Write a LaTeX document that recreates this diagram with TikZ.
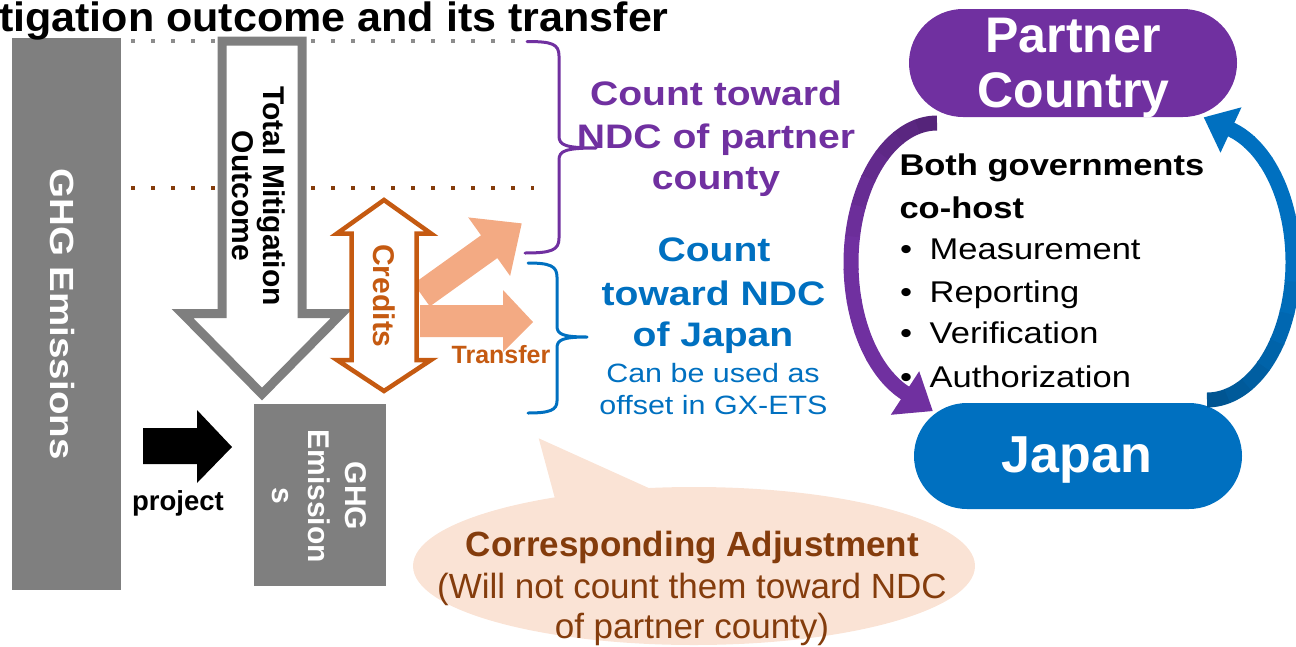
\documentclass[tikz,border=0pt]{standalone}
\usepackage{fontspec}
\setmainfont{Liberation Sans}
\newfontfamily\wf[FakeStretch=1.15]{Liberation Sans}
\newfontfamily\tf[FakeStretch=1.05]{Liberation Sans}
\usetikzlibrary{shapes.geometric}
\newcommand{\setfs}[1]{\fontsize{#1}{#1}\selectfont}
\definecolor{ghggray}{HTML}{7F7F7F}
\definecolor{dotgray}{HTML}{8C8C8C}
\definecolor{ptpurple}{HTML}{7030A0}
\definecolor{jpblue}{HTML}{0070C0}
\definecolor{credorange}{HTML}{C55A11}
\definecolor{salmon}{HTML}{F3AA83}
\definecolor{brownd}{HTML}{843C0C}
\definecolor{peach}{HTML}{FAE3D5}
\begin{document}
\begin{tikzpicture}[x=1pt,y=-1pt,
  txt/.style={inner sep=0pt, outer sep=0pt},
  dots/.style={line width=4pt, dash pattern=on 4pt off 16pt},
  bar/.style={fill=ghggray, inner sep=0pt, outer sep=0pt},
  vtxt/.style={txt, rotate=-90, anchor=base},
  htxt/.style={txt, anchor=base},
  pill/.style={inner sep=0pt, outer sep=0pt, minimum width=328pt},
  band/.style={line width=15pt},
  brace/.style={line width=3pt, line join=round, line cap=round}]
\useasboundingbox (0,0) rectangle (1296,646);
\clip (0,0) rectangle (1296,646);

% dotted level lines
\coordinate (g1) at (131,41); \coordinate (g2) at (530,41);
\draw[dots, dotgray] (g1) -- (g2);
\coordinate (b1) at (131,188); \coordinate (b2) at (534,188);
\draw[dots, brownd] (b1) -- (b2);

% big GHG bar
\node[bar, minimum width=109pt, minimum height=552pt] (ghgbar) at (66.5,314) {};
\node[vtxt, text=white, font={\wf\bfseries\setfs{33.5}}] (ghgtxt) at (50,314) {GHG Emissions};

% small GHG box
\node[bar, minimum width=132pt, minimum height=182pt] (ghgbox) at (320,495) {};
\node[vtxt, text=white, font={\bfseries\setfs{30}}] (sb1) at (345,496) {GHG};
\node[vtxt, text=white, font={\bfseries\setfs{30}}] (sb2) at (308,496) {Emission};
\node[vtxt, text=white, font={\bfseries\setfs{30}}] (sb3) at (272,496) {s};

% project arrow
\fill (143,428) -- (197,428) -- (197,410) -- (232,447) -- (197,483) -- (197,464) -- (143,464) -- cycle;
\node[htxt, font={\bfseries\setfs{27.5}}] (proj) at (178,510) {project};

% total mitigation outcome arrow
\draw[ghggray, fill=white, line width=9pt] (222,41) -- (302,41) -- (302,313.5) -- (341.5,313.5) -- (262,394) -- (182.5,313.5) -- (222,313.5) -- cycle;
\node[vtxt, font={\bfseries\setfs{30}}] (tmo1) at (263,196) {Total Mitigation};
\node[vtxt, font={\bfseries\setfs{30}}] (tmo2) at (232,196) {Outcome};

% salmon transfer arrows
\fill[salmon] (420,305) -- (503,305) -- (503,290) -- (533,322) -- (503,352) -- (503,337) -- (420,337) -- cycle;
\begin{scope}[shift={(421.7,295)}, rotate=35.6]
\fill[salmon] (0,-14) -- (83,-14) -- (83,-36) -- (123,0) -- (83,36) -- (83,14) -- (0,14) -- cycle;
\end{scope}

% credits double arrow
\draw[credorange, fill=white, line width=4.5pt] (384,200) -- (431,233.5) -- (416.5,233.5) -- (416.5,360) -- (431,360) -- (384,391) -- (337,360) -- (351.5,360) -- (351.5,233.5) -- (337,233.5) -- cycle;
\node[vtxt, text=credorange, font={\bfseries\setfs{30}}] (cred) at (373,296) {Credits};
\node[htxt, text=credorange, font={\bfseries\setfs{25}}] (transfer) at (501,363) {Transfer};

% braces
\draw[brace, ptpurple] (527,41.5) .. controls (552,41.5) and (559,44) .. (559,56) -- (559,136) .. controls (559,145) and (565,148) .. (596,148) .. controls (565,148) and (559,151) .. (559,160) -- (559,238) .. controls (559,250) and (552,253) .. (525,253);
\draw[brace, jpblue] (528,263) .. controls (550,263) and (557,266) .. (557,277) -- (557,326) .. controls (557,334) and (562,337) .. (587,337) .. controls (562,337) and (557,340) .. (557,348) -- (557,401) .. controls (557,410) and (550,413) .. (528,413);

% count texts
\node[htxt, text=ptpurple, font={\wf\bfseries\setfs{34}}] (pc1) at (716,105.5) {Count toward};
\node[htxt, text=ptpurple, font={\wf\bfseries\setfs{34}}] (pc2) at (716,148.3) {NDC of partner};
\node[htxt, text=ptpurple, font={\wf\bfseries\setfs{34}}] (pc3) at (716,189) {county};
\node[htxt, text=jpblue, font={\wf\bfseries\setfs{34}}] (jc1) at (714,261.7) {Count};
\node[htxt, text=jpblue, font={\wf\bfseries\setfs{34}}] (jc2) at (713.5,305) {toward NDC};
\node[htxt, text=jpblue, font={\wf\bfseries\setfs{34}}] (jc3) at (713,346.7) {of Japan};
\node[htxt, text=jpblue, font={\wf\setfs{26.5}}] (jc4) at (713,382.7) {Can be used as};
\node[htxt, text=jpblue, font={\wf\setfs{26.5}}] (jc5) at (713.5,414) {offset in GX-ETS};

% callout
\node[ellipse, fill=peach, inner sep=0pt, minimum width=562pt, minimum height=158pt] (callout) at (694,566) {};
\fill[peach] (538.7,438.3) -- (557,506) -- (662,494) -- cycle;
\node[htxt, text=brownd, font={\bfseries\setfs{35}}] (ca1) at (692.5,556.7) {Corresponding Adjustment};
\node[htxt, text=brownd, font={\setfs{35}}] (ca2) at (692,598) {(Will not count them toward NDC};
\node[htxt, text=brownd, font={\setfs{35}}] (ca3) at (692,638) {of partner county)};

% right panel
\node[pill, fill=ptpurple, rounded corners=54pt, minimum height=108pt] (partner) at (1073,63) {};
\node[pill, fill=jpblue, rounded corners=53pt, minimum height=106pt] (japan) at (1078,456) {};
\node[htxt, text=white, font={\bfseries\setfs{50}}] (pt1) at (1073,52) {Partner};
\node[htxt, text=white, font={\bfseries\setfs{50}}] (pt2) at (1073.5,107) {Country};
\node[htxt, text=white, font={\bfseries\setfs{52}}] (jp) at (1077,472) {Japan};

\node[txt, anchor=base west, font={\wf\bfseries\setfs{30}}] (both1) at (899.5,175) {Both governments};
\node[txt, anchor=base west, font={\wf\bfseries\setfs{30}}] (both2) at (899.5,218) {co-host};
\node[txt, anchor=base west, font={\wf\setfs{30}}] (li1) at (900,259) {\makebox[29.7pt][l]{•}Measurement};
\node[txt, anchor=base west, font={\wf\setfs{30}}] (li2) at (900,302) {\makebox[29.7pt][l]{•}Reporting};
\node[txt, anchor=base west, font={\wf\setfs{30}}] (li3) at (900,343) {\makebox[29.7pt][l]{•}Verification};
\node[txt, anchor=base west, font={\wf\setfs{30}}] (li4) at (900,387) {\makebox[29.7pt][l]{•}Authorization};

% cycle arrows (shaded in segments)
\foreach \i in {0,...,11}{
  \pgfmathsetmacro\ta{270-\i*13.18}
  \pgfmathsetmacro\tb{270-(\i+1)*13.18-0.6}
  \pgfmathtruncatemacro\m{100-max(0,24-\i*4)}
  \draw[band, color=ptpurple!\m!black] plot[domain=\ta:\tb, samples=8, smooth] ({937+86*cos(\x)},{263+140*sin(\x)});
}
\fill[ptpurple] (932.7,411) -- (890.8,414.8) -- (919.2,371.2) -- cycle;
\foreach \i in {0,...,11}{
  \pgfmathsetmacro\ta{90-\i*13.65}
  \pgfmathsetmacro\tb{90-(\i+1)*13.65-0.6}
  \pgfmathtruncatemacro\m{100-max(0,24-\i*4)}
  \draw[band, color=jpblue!\m!black] plot[domain=\ta:\tb, samples=8, smooth] ({1207+86*cos(\x)},{262+138*sin(\x)});
}
\fill[jpblue] (1203.8,117.4) -- (1241.5,107.3) -- (1220.5,152.7) -- cycle;

% title
\node[txt, anchor=base west, font={\tf\bfseries\setfs{41}}] (title) at (-1,31.5) {tigation outcome and its transfer};
\end{tikzpicture}
\end{document}
